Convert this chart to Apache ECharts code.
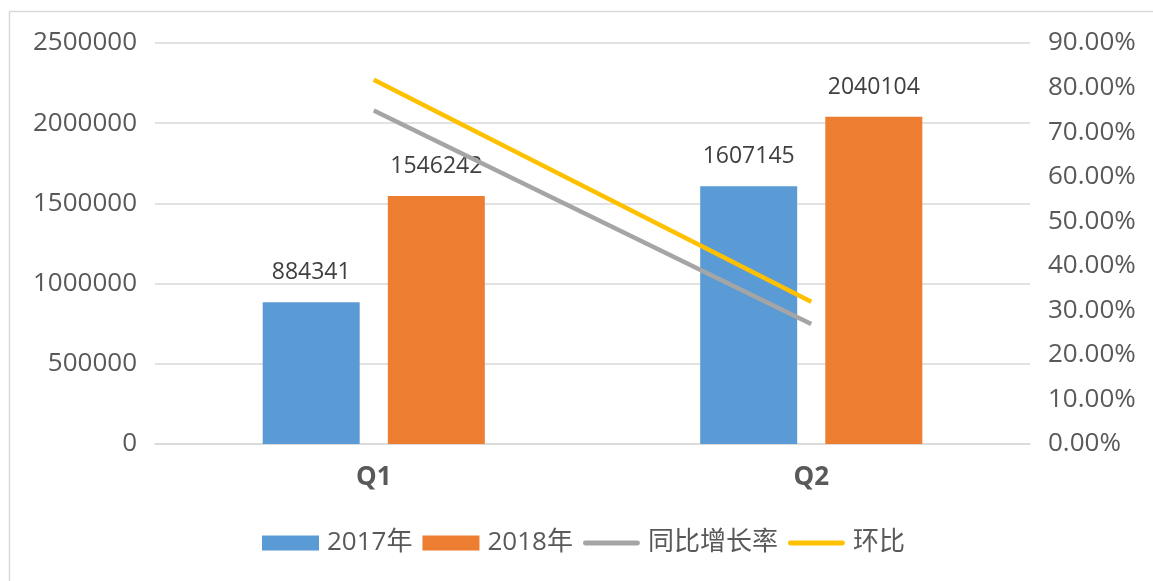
<!DOCTYPE html>
<html>
<head>
<meta charset="utf-8">
<script src="https://cdn.jsdelivr.net/npm/echarts@6/dist/echarts.min.js"></script>
<style>
  html, body { margin: 0; padding: 0; background: #fff; }
  #chart { width: 1153px; height: 581px; }
</style>
</head>
<body>
<div id="chart"></div>
<script>
const categories = ['Q1', 'Q2']
const sales2017 = [884341, 1607145]
const sales2018 = [1546242, 2040104]
const yoyRate = [74.85, 26.94]
const momRate = [81.73, 31.94]
const leftTicks = { min: 0, max: 2500000, interval: 500000 }
const rightTicks = { min: 0, max: 90, interval: 10 }

const font = '"Open Sans", "Noto Sans CJK SC", sans-serif'
const chart = echarts.init(document.getElementById('chart'))

const barLabel = {
  show: true,
  position: 'top',
  distance: 18,
  color: '#404040',
  fontSize: 23,
  fontFamily: font,
}
// flat bar shape for the line series legend entries
const lineIcon = 'path://M2.5,0 L56.5,0 A2.5,2.5 0 0 1 56.5,5 L2.5,5 A2.5,2.5 0 0 1 2.5,0 Z'

const option = {
  animation: false,
  textStyle: { fontFamily: font },
  graphic: [{
    type: 'rect',
    shape: { x: 9.5, y: 11.5, width: 1160, height: 600 },
    style: { fill: 'none', stroke: '#D9D9D9', lineWidth: 1.5 },
    silent: true,
  }],
  grid: { left: 155, right: 123, top: 43, bottom: 137 },
  legend: {
    top: 525,
    left: 257,
    itemWidth: 57,
    itemHeight: 15,
    itemGap: 10,
    textStyle: { color: '#595959', fontSize: 26, fontFamily: font, padding: [0, 0, 0, 3] },
    data: [
      { name: '2017年', icon: 'rect' },
      { name: '2018年', icon: 'rect' },
      { name: '同比增长率', icon: lineIcon },
      { name: '环比', icon: lineIcon },
    ],
  },
  xAxis: [{
    type: 'category',
    data: categories,
    axisLine: { lineStyle: { color: '#D9D9D9', width: 1.5 } },
    axisTick: { show: false },
    axisLabel: { color: '#595959', fontSize: 26, fontWeight: 'bold', margin: 21, fontFamily: font },
  }],
  yAxis: [{
    type: 'value',
    ...leftTicks,
    axisLine: { show: false },
    axisTick: { show: false },
    splitLine: { lineStyle: { color: '#D9D9D9', width: 1.5 } },
    axisLabel: { color: '#595959', fontSize: 26, margin: 18, fontFamily: font, formatter: v => String(v) },
  }, {
    type: 'value',
    ...rightTicks,
    position: 'right',
    axisLine: { show: false },
    axisTick: { show: false },
    splitLine: { show: false },
    axisLabel: {
      color: '#595959', fontSize: 26, margin: 18, fontFamily: font,
      formatter: v => v.toFixed(2) + '%',
    },
  }],
  series: [{
    name: '2017年',
    type: 'bar',
    data: sales2017,
    barWidth: 97,
    barGap: '29%',
    itemStyle: { color: '#5B9BD5' },
    label: barLabel,
  }, {
    name: '2018年',
    type: 'bar',
    data: sales2018,
    barWidth: 97,
    itemStyle: { color: '#ED7D31' },
    label: barLabel,
  }, {
    name: '同比增长率',
    type: 'line',
    yAxisIndex: 1,
    data: yoyRate,
    symbol: 'none',
    lineStyle: { color: '#A5A5A5', width: 4.5 },
    itemStyle: { color: '#A5A5A5' },
  }, {
    name: '环比',
    type: 'line',
    yAxisIndex: 1,
    data: momRate,
    symbol: 'none',
    lineStyle: { color: '#FFC000', width: 4.5 },
    itemStyle: { color: '#FFC000' },
  }],
}

chart.setOption(option)
</script>
</body>
</html>
